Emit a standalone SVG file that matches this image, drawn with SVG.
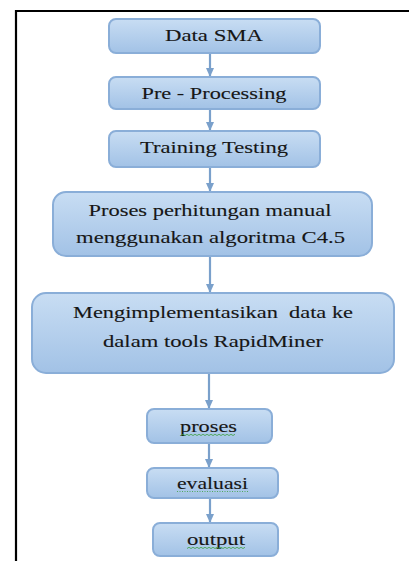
<svg xmlns="http://www.w3.org/2000/svg" width="409" height="561" viewBox="0 0 409 561">
<defs>
<linearGradient id="g" x1="0" y1="0" x2="0" y2="1">
<stop offset="0" stop-color="#c8ddf3"/>
<stop offset="1" stop-color="#a2c2e6"/>
</linearGradient>
<marker id="ah" markerWidth="9" markerHeight="8" refX="9" refY="4" orient="auto" markerUnits="userSpaceOnUse">
<path d="M0,0 L9,4 L0,8 Z" fill="#7aa0cb"/>
</marker>
</defs>
<style>
.box{fill:url(#g);stroke:#8aaed8;stroke-width:2}
.t{font-family:"Liberation Serif","Times New Roman",serif;font-size:17px;fill:#161616;stroke:#161616;stroke-width:0.12;text-anchor:middle}
.c{stroke:#7aa0cb;stroke-width:2.2;fill:none;marker-end:url(#ah)}
.w{stroke:#3aa03a;stroke-width:0.8;fill:none}
</style>
<rect width="409" height="561" fill="#ffffff"/>
<path d="M16,561 V11 H409" fill="none" stroke="#000" stroke-width="2.2"/>
<g id="connectors">
<line class="c" x1="210" y1="53" x2="210" y2="77"/>
<line class="c" x1="210" y1="109" x2="210" y2="131"/>
<line class="c" x1="210" y1="167" x2="210" y2="192"/>
<line class="c" x1="210" y1="256" x2="210" y2="293"/>
<line class="c" x1="209" y1="373" x2="209" y2="409"/>
<line class="c" x1="209" y1="443" x2="209" y2="468"/>
<line class="c" x1="210" y1="498" x2="210" y2="523"/>
</g>
<g id="n1"><rect class="box" x="109" y="19" width="211" height="34" rx="7"/><text class="t" x="214" y="41" textLength="98" lengthAdjust="spacingAndGlyphs">Data SMA</text></g>
<g id="n2"><rect class="box" x="109" y="77" width="211" height="32" rx="7"/><text class="t" x="214" y="99" textLength="145" lengthAdjust="spacingAndGlyphs">Pre - Processing</text></g>
<g id="n3"><rect class="box" x="109" y="131" width="211" height="36" rx="7"/><text class="t" x="214" y="153" textLength="148" lengthAdjust="spacingAndGlyphs">Training Testing</text></g>
<g id="n4"><rect class="box" x="53" y="192" width="319" height="64" rx="13"/><text class="t" x="210" y="216" textLength="243" lengthAdjust="spacingAndGlyphs">Proses perhitungan manual</text><text class="t" x="210.5" y="243" textLength="269" lengthAdjust="spacingAndGlyphs">menggunakan algoritma C4.5</text></g>
<g id="n5"><rect class="box" x="32" y="293" width="362" height="80" rx="14"/><text class="t" x="213" y="318" textLength="280" lengthAdjust="spacingAndGlyphs" xml:space="preserve">Mengimplementasikan  data ke</text><text class="t" x="213" y="347" textLength="220" lengthAdjust="spacingAndGlyphs">dalam tools RapidMiner</text></g>
<g id="n6"><rect class="box" x="147" y="409" width="125" height="34" rx="7"/><text class="t" x="208.5" y="432" textLength="57" lengthAdjust="spacingAndGlyphs">proses</text><path class="w" d="M181,435.5 l2,-1.2 l2,1.2 l2,-1.2 l2,1.2 l2,-1.2 l2,1.2 l2,-1.2 l2,1.2 l2,-1.2 l2,1.2 l2,-1.2 l2,1.2 l2,-1.2 l2,1.2 l2,-1.2 l2,1.2 l2,-1.2 l2,1.2 l2,-1.2 l2,1.2 l2,-1.2 l2,1.2 l2,-1.2 l2,1.2 l2,-1.2 l2,1.2 l2,-1.2"/></g>
<g id="n7"><rect class="box" x="147" y="468" width="131" height="30" rx="7"/><text class="t" x="212.5" y="489" textLength="71" lengthAdjust="spacingAndGlyphs">evaluasi</text><line x1="177" y1="491.5" x2="248" y2="491.5" stroke="#3aa03a" stroke-width="0.8" stroke-dasharray="1,1.5"/></g>
<g id="n8"><rect class="box" x="153" y="523" width="125" height="33" rx="7"/><text class="t" x="216" y="545" textLength="58" lengthAdjust="spacingAndGlyphs">output</text><path class="w" d="M187,548.5 l2,-1.2 l2,1.2 l2,-1.2 l2,1.2 l2,-1.2 l2,1.2 l2,-1.2 l2,1.2 l2,-1.2 l2,1.2 l2,-1.2 l2,1.2 l2,-1.2 l2,1.2 l2,-1.2 l2,1.2 l2,-1.2 l2,1.2 l2,-1.2 l2,1.2 l2,-1.2 l2,1.2 l2,-1.2 l2,1.2 l2,-1.2 l2,1.2 l2,-1.2 l2,1.2 l2,-1.2"/></g>
</svg>
